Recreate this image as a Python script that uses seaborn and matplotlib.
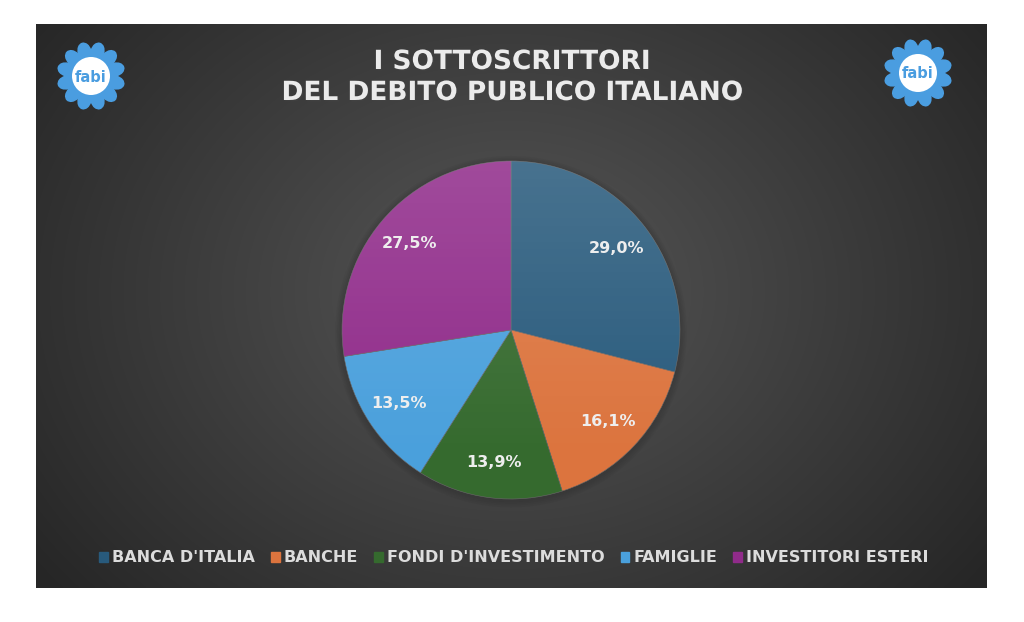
import numpy as np
import matplotlib
matplotlib.use("Agg")
import matplotlib.pyplot as plt
import matplotlib.patches as mpatches
import matplotlib.patheffects as pe
import seaborn as sns

# data
categories = ["BANCA D'ITALIA", "BANCHE", "FONDI D'INVESTIMENTO", "FAMIGLIE", "INVESTITORI ESTERI"]
shares = [29.0, 16.1, 13.9, 13.5, 27.5]
colors = ["#285a7c", "#dc743e", "#356a2e", "#4aa0dc", "#902b8a"]
title_lines = ["I SOTTOSCRITTORI", "DEL DEBITO PUBLICO ITALIANO"]

sns.set_theme(style="dark")
plt.rcParams['font.family'] = ['DejaVu Sans']
palette = sns.color_palette(colors)

W, H = 1024, 622
fig = plt.figure(figsize=(W / 100, H / 100), dpi=100, facecolor="white")

# dark slide background with radial gradient
x0, x1, y0, y1 = 36, 987, 24, 588
bg = fig.add_axes([x0 / W, 1 - y1 / H, (x1 - x0) / W, (y1 - y0) / H])
gx, gy = np.meshgrid(np.linspace(-1, 1, 400), np.linspace(-1, 1, 240))
r = np.sqrt(gx ** 2 + ((gy + 0.05) * 0.75) ** 2)
shade = 0.34 - 0.19 * np.clip(r / 1.25, 0, 1)
img = np.dstack([shade, shade, shade])
bg.imshow(img, aspect="auto", extent=[0, 1, 0, 1], interpolation="bilinear")
bg.set_axis_off()

# overlay in pixel coordinates for title and logos
ov = fig.add_axes([0, 0, 1, 1])
ov.set_xlim(0, W)
ov.set_ylim(H, 0)
ov.set_axis_off()
ov.patch.set_alpha(0)


def draw_logo(cx, cy):
    n = 12
    for k in range(n):
        a = 2 * np.pi * k / n + np.pi / 12
        ov.add_patch(mpatches.Ellipse((cx + 25 * np.cos(a), cy + 25 * np.sin(a)), 19, 14,
                                      angle=np.degrees(a), color="#4a9de0", lw=0))
    ov.add_patch(mpatches.Circle((cx, cy), 23, color="#4a9de0", lw=0))
    ov.add_patch(mpatches.Circle((cx, cy), 19, color="white", lw=0))
    ov.text(cx, cy + 1, "fabi", color="#4a9de0", fontsize=10.5, fontweight="bold",
            ha="center", va="center", family="DejaVu Sans")


draw_logo(91, 76)
draw_logo(918, 73)

for i, line in enumerate(title_lines):
    ov.text(W / 2, 62 + i * 31, line, color="#ebebeb", fontsize=19, fontweight="bold",
            ha="center", va="center",
            path_effects=[pe.withSimplePatchShadow(offset=(1, -1), alpha=0.4)])

# pie
cx, cy, rad = 511, 330, 169
lim = 1.08
ax = fig.add_axes([(cx - rad * lim) / W, 1 - (cy + rad * lim) / H,
                   2 * rad * lim / W, 2 * rad * lim / H])
ax.patch.set_alpha(0)

# soft shadow behind the pie
for k in range(4):
    ax.add_patch(mpatches.Circle((0, -0.01), 1.0 + 0.01 * (k + 1), color="black",
                                 alpha=0.03, lw=0, zorder=0))

wedges, texts, autotexts = ax.pie(
    shares, colors=palette, startangle=90, counterclock=False,
    autopct=lambda p: f"{p:.1f}%".replace(".", ","), pctdistance=0.79,
    wedgeprops=dict(linewidth=0.4, edgecolor="#6a6a6a"),
    textprops=dict(color="#eeeeee", fontsize=11.5, fontweight="bold"),
)
for w in wedges:
    w.set_zorder(1)

# light vertical sheen over the pie
sheen = np.zeros((200, 2, 4))
sheen[..., :3] = 1.0
sheen[..., 3] = np.clip(np.linspace(0.15, -0.02, 200), 0, None)[:, None]
im = ax.imshow(sheen, extent=[-1, 1, -1, 1], origin="upper", aspect="auto", zorder=2)
im.set_clip_path(mpatches.Circle((0, 0), 1.0, transform=ax.transData))
for t in autotexts:
    t.set_zorder(3)

ax.set_xlim(-lim, lim)
ax.set_ylim(-lim, lim)
ax.set_aspect("equal")
ax.set_axis_off()

handles = [mpatches.Patch(color=c, label=l) for c, l in zip(palette, categories)]
leg = fig.legend(handles=handles, loc="center", bbox_to_anchor=(514 / W, 1 - 558 / H),
                 ncol=5, frameon=False, handlelength=0.55, handleheight=0.55,
                 handletextpad=0.25, columnspacing=1.0,
                 prop=dict(size=11.5, weight="bold"))
for t in leg.get_texts():
    t.set_color("#dcdcdc")

fig.savefig("out.png", dpi=100, facecolor="white")
